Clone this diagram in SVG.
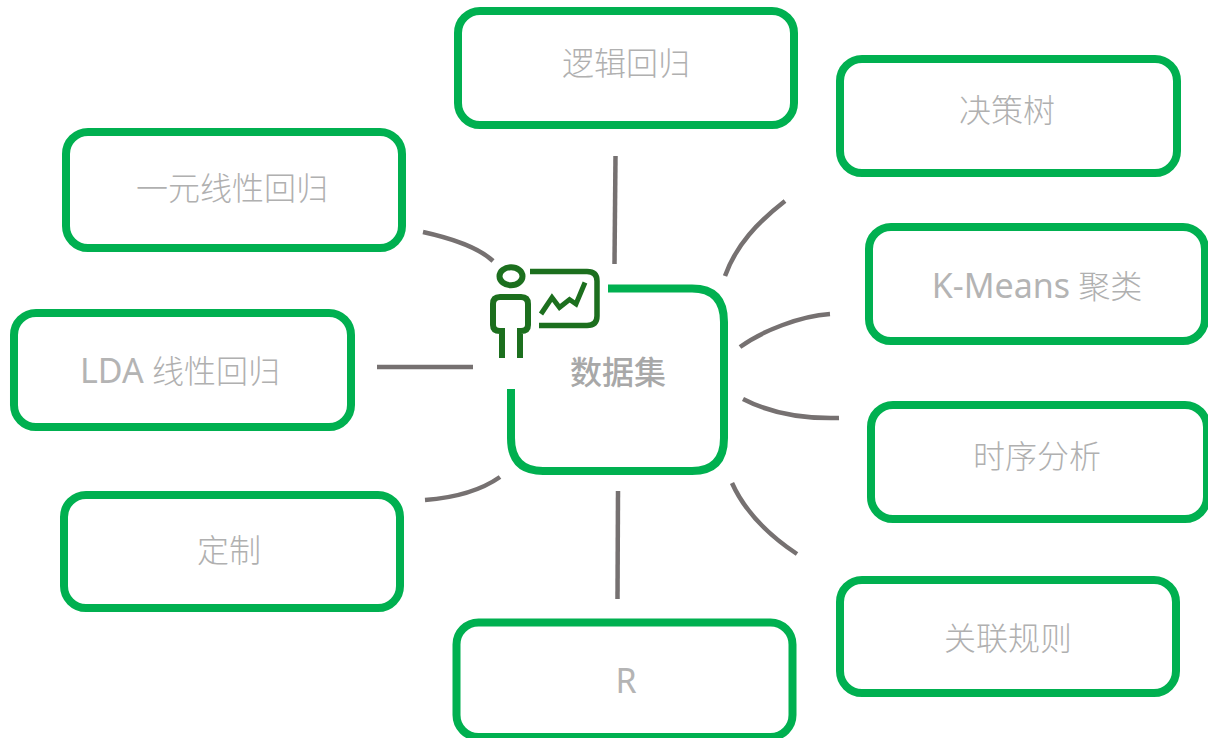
<svg xmlns="http://www.w3.org/2000/svg" width="1208" height="738" viewBox="0 0 1208 738">
<style>
.box{fill:#fff;stroke:#00b050;stroke-width:8}
.t{font-family:"Noto Sans","Noto Sans CJK SC",sans-serif;font-weight:300;font-size:32px;fill:#b0b0b0;text-anchor:middle}
.l{font-size:34px;font-weight:400;fill:#b4b4b4}
.c{fill:none;stroke:#767171;stroke-width:4.5}
.i{fill:none;stroke:#1c6f1e;stroke-width:6}
</style>
<rect width="1208" height="738" fill="#fff"/>
<g id="connectors">
<path class="c" d="M615.500 156L614.500 264"/>
<path class="c" d="M423 232C450 238 478 247 493 261"/>
<path class="c" d="M377 367H473"/>
<path class="c" d="M425 500C452 498 480 491 500 477"/>
<path class="c" d="M618 491L617.500 599"/>
<path class="c" d="M725 276C736 245 758 222 785 201"/>
<path class="c" d="M740 347C762 331 800 316 830 314"/>
<path class="c" d="M743 399C770 413 805 419 839 418"/>
<path class="c" d="M732 483C745 512 770 536 797 554"/>
</g>
<g id="node-center">
<path d="M608 288.500H692Q724 288.500 724 322V438Q724 471 692 471H543Q511 471 511 438V389" fill="none" stroke="#00b050" stroke-width="8"/>
<text x="618" y="384" style="font-family:'Noto Sans CJK SC',sans-serif;font-weight:500;font-size:32px;fill:#a8a8a8;text-anchor:middle">数据集</text>
<g id="icon">
<ellipse class="i" cx="511" cy="276.300" rx="11.500" ry="9"/>
<path class="i" d="M502 358V331H500Q493 331 493 325V304Q493 297 500 297H521Q528 297 528 304V325Q528 331 521 331H520V358"/>
<path class="i" style="stroke-width:5.500" d="M530 271.500H587Q597 271.500 597 281V316Q597 325.500 587 325.500H539"/>
<path d="M541 314L552 297.500L559.500 307.500L569.500 299.500L576 304L585 282.500" fill="none" stroke="#1c6f1e" stroke-width="5"/>
</g>
</g>
<g id="node-1"><rect class="box" x="458" y="11" width="336" height="114" rx="22"/><text class="t" x="626" y="75">逻辑回归</text></g>
<g id="node-2"><rect class="box" x="840" y="59" width="337" height="114" rx="22"/><text class="t" x="1007" y="122">决策树</text></g>
<g id="node-3"><rect class="box" x="66" y="132" width="336" height="116" rx="22"/><text class="t" x="232" y="200">一元线性回归</text></g>
<g id="node-4"><rect class="box" x="869" y="227" width="336" height="114" rx="22"/><text class="t" x="1037" y="298"><tspan class="l">K-Means</tspan> 聚类</text></g>
<g id="node-5"><rect class="box" x="14" y="313" width="337" height="114" rx="22"/><text class="t" x="180" y="383"><tspan class="l">LDA</tspan> 线性回归</text></g>
<g id="node-6"><rect class="box" x="871" y="405" width="336" height="114" rx="22"/><text class="t" x="1037" y="468">时序分析</text></g>
<g id="node-7"><rect class="box" x="64" y="495" width="336" height="113" rx="22"/><text class="t" x="229" y="562">定制</text></g>
<g id="node-8"><rect class="box" x="840" y="580" width="336" height="113" rx="22"/><text class="t" x="1008" y="650">关联规则</text></g>
<g id="node-9"><rect class="box" x="456.500" y="622.500" width="336" height="114.500" rx="22"/><text class="t" x="626" y="693"><tspan class="l">R</tspan></text></g>
</svg>
